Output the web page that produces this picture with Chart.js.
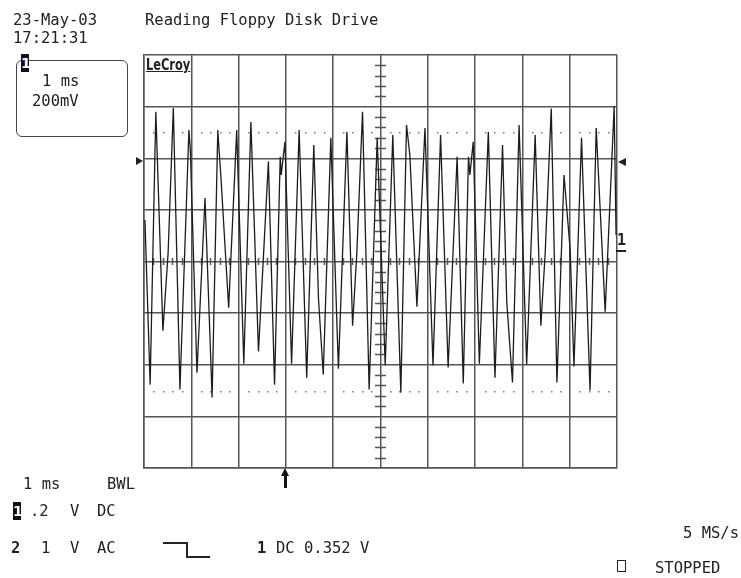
<!DOCTYPE html>
<html>
<head>
<meta charset="utf-8">
<script src="https://cdn.jsdelivr.net/npm/chart.js@4.4.1/dist/chart.umd.min.js"></script>
<style>
body{margin:0;background:#fff}
#wrap{position:relative;width:741px;height:578px;overflow:hidden}
#c{position:absolute;left:0;top:0}
.t{position:absolute;font:15.5px/16px "DejaVu Sans Mono",monospace;color:#222;white-space:pre}
.b{font-weight:bold}
.badge{position:absolute;background:#111;color:#fff;font:bold 14px/18px "DejaVu Sans",sans-serif;width:8px;height:18px;text-align:center;overflow:hidden}
.box{position:absolute;left:16px;top:60px;width:110px;height:75px;border:1.5px solid #444;border-radius:6px}
.logo{position:absolute;left:146px;top:56px;font:bold 15px/18px "DejaVu Sans",sans-serif;color:#222;text-decoration:underline;transform:scaleX(0.76);transform-origin:0 0}
.ln{position:absolute;background:#222}
</style>
</head>
<body>
<div id="wrap">
<canvas id="c" width="741" height="578"></canvas>

<div class="t" style="left:13px;top:12px">23-May-03</div>
<div class="t" style="left:13px;top:30px">17:21:31</div>
<div class="t" style="left:145px;top:12px">Reading Floppy Disk Drive</div>

<div class="box"></div>
<div class="badge" style="left:21px;top:54px">1</div>
<div class="t" style="left:42px;top:73px">1 ms</div>
<div class="t" style="left:32px;top:93px">200mV</div>

<div class="logo">LeCroy</div>

<div style="position:absolute;left:136px;top:157px;width:0;height:0;border-left:7px solid #222;border-top:4.5px solid transparent;border-bottom:4.5px solid transparent"></div>
<div style="position:absolute;left:618px;top:158px;width:0;height:0;border-right:8px solid #222;border-top:4.5px solid transparent;border-bottom:4.5px solid transparent"></div>
<div class="t b" style="left:617px;top:232px;font-size:15px">1</div>
<div class="ln" style="left:616px;top:250px;width:10px;height:2px"></div>

<div style="position:absolute;left:281px;top:468px;width:0;height:0;border-bottom:8px solid #111;border-left:4px solid transparent;border-right:4px solid transparent"></div>
<div class="ln" style="left:283.5px;top:475px;width:3px;height:13px;background:#111"></div>

<div class="t" style="left:23px;top:476px">1 ms     BWL</div>
<div class="badge" style="left:13px;top:502px">1</div>
<div class="t" style="left:30px;top:503px">.2</div>
<div class="t" style="left:70px;top:503px">V</div>
<div class="t" style="left:97px;top:503px">DC</div>

<div class="t b" style="left:11px;top:540px">2</div>
<div class="t" style="left:41px;top:540px">1</div>
<div class="t" style="left:70px;top:540px">V</div>
<div class="t" style="left:97px;top:540px">AC</div>
<div class="ln" style="left:163px;top:542px;width:24px;height:1.5px"></div>
<div class="ln" style="left:186px;top:542px;width:1.5px;height:15px"></div>
<div class="ln" style="left:186px;top:556px;width:24px;height:1.5px"></div>
<div class="t b" style="left:257px;top:540px">1</div>
<div class="t" style="left:276px;top:540px">DC 0.352 V</div>

<div class="t" style="left:683px;top:525px">5 MS/s</div>
<div style="position:absolute;left:617px;top:560px;width:7px;height:10px;border:1.3px solid #222"></div>
<div class="t" style="left:655px;top:560px">STOPPED</div>
</div>

<script>
// screen: 10 div x 1 ms, 8 div x 200 mV
const timeMs=[0.02,0.13,0.25,0.40,0.51,0.62,0.76,0.95,0.98,1.12,
  1.29,1.44,1.56,1.63,1.79,1.96,2.11,2.26,2.42,2.63,
  2.76,2.88,2.90,2.98,3.12,3.28,3.44,3.59,3.69,3.79,
  3.95,4.11,4.29,4.41,4.50,4.62,4.76,4.93,5.10,5.26,
  5.43,5.55,5.62,5.77,5.94,6.11,6.27,6.43,6.62,6.75,
  6.86,6.89,6.96,7.09,7.28,7.42,7.58,7.67,7.79,7.93,
  8.09,8.27,8.39,8.48,8.61,8.73,8.88,9.01,9.09,9.25,
  9.43,9.56,9.75,9.94,9.98];
const voltsMv=[161,-477,580,-268,34,595,-496,509,432,-431,
  246,-527,509,316,-179,509,-396,540,-349,387,
  -477,406,335,464,-396,509,-450,451,-148,-438,
  479,-415,503,-249,34,580,-496,479,-403,490,
  -508,529,413,-175,517,-403,490,-411,406,-473,
  406,335,464,-396,503,-450,451,-160,-469,529,
  -400,490,-249,26,593,-469,335,45,-407,479,
  -500,517,-195,600,103];
const xDivs=[0,10],yDivs=[-800,800];
const cursorMv=[500,-500];
const MINOR=5;

const scopeDecor={
  id:'scopeDecor',
  beforeDatasetsDraw(chart){
    const {ctx,scales:{x,y}}=chart;
    const cx=x.getPixelForValue((xDivs[0]+xDivs[1])/2),cy=y.getPixelForValue(0);
    const xStep=1/MINOR,yStep=200/MINOR;
    ctx.save();
    ctx.strokeStyle='#555';ctx.lineWidth=1.5;
    ctx.beginPath();
    for(let v=yDivs[0]+yStep;v<yDivs[1];v+=yStep){
      if(Math.abs(Math.round(v)%200)<1)continue;
      const py=Math.round(y.getPixelForValue(v))+0.5;
      ctx.moveTo(cx-5.5,py);ctx.lineTo(cx+5.5,py);
    }
    for(let t=xDivs[0]+xStep;t<xDivs[1]-1e-6;t+=xStep){
      if(Math.abs(t-Math.round(t))<1e-6)continue;
      const px=Math.round(x.getPixelForValue(t))+0.5;
      ctx.moveTo(px,cy-3.5);ctx.lineTo(px,cy+3.5);
    }
    ctx.stroke();
    ctx.fillStyle='#777';
    cursorMv.forEach(mv=>{
      const py=y.getPixelForValue(mv);
      for(let t=xDivs[0]+xStep;t<xDivs[1]-1e-6;t+=xStep){
        if(Math.abs(t-Math.round(t))<1e-6)continue;
        ctx.fillRect(Math.round(x.getPixelForValue(t)),Math.round(py),1.5,1.5);
      }
    });
    ctx.restore();
  }
};

new Chart(document.getElementById('c'),{
  type:'line',
  data:{datasets:[{
    data:timeMs.map((t,i)=>({x:t,y:voltsMv[i]})),
    borderColor:'#1c1c1c',borderWidth:1.3,pointRadius:0,tension:0,fill:false
  }]},
  options:{
    responsive:false,animation:false,
    layout:{padding:{left:144,right:124,top:55,bottom:110}},
    plugins:{legend:{display:false},tooltip:{enabled:false}},
    scales:{
      x:{type:'linear',min:xDivs[0],max:xDivs[1],ticks:{display:false,stepSize:1},
        grid:{color:'#555',lineWidth:1.5,drawTicks:false},border:{display:true,color:'#555',width:1.5}},
      y:{type:'linear',min:yDivs[0],max:yDivs[1],ticks:{display:false,stepSize:200},
        grid:{color:'#555',lineWidth:1.5,drawTicks:false},border:{display:true,color:'#555',width:1.5}}
    }
  },
  plugins:[scopeDecor]
});
</script>
</body>
</html>
